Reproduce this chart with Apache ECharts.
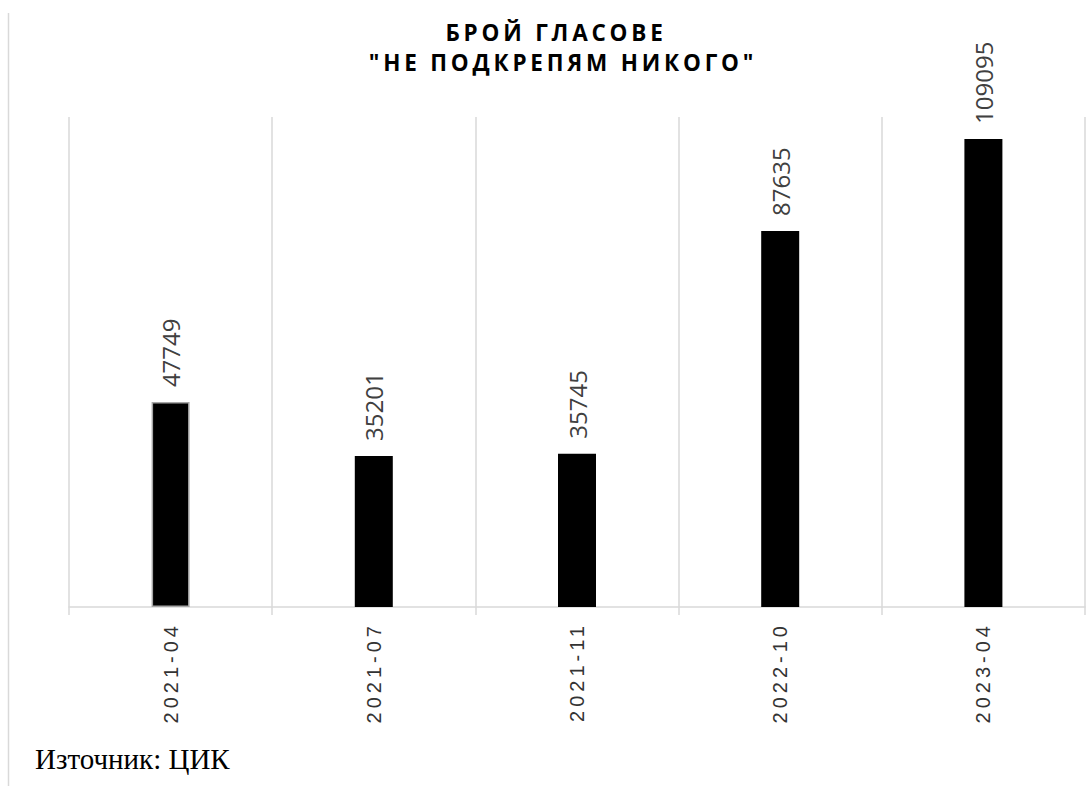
<!DOCTYPE html>
<html>
<head>
<meta charset="utf-8">
<script src="https://cdn.jsdelivr.net/npm/echarts@6/dist/echarts.min.js"></script>
<style>html,body{margin:0;padding:0;background:#fff}#c{width:1088px;height:786px}</style>
</head>
<body>
<div id="c"></div>
<script>
const categories = ['2021-04', '2021-07', '2021-11', '2022-10', '2023-04'];
const votes = [47749, 35201, 35745, 87635, 109095];
const titleLines = ['БРОЙ ГЛАСОВЕ', '"НЕ ПОДКРЕПЯМ НИКОГО"'];
const sourceText = 'Източник: ЦИК';

const chart = echarts.init(document.getElementById('c'), null, {renderer: 'svg'});
const barData = votes.map((v, i) => i === 0
  ? {value: v, itemStyle: {color: '#000', borderColor: '#a6a6a6', borderWidth: 1.5}}
  : {value: v});

const titleStyle = {fontFamily: 'Open Sans', fontWeight: 'bold', fontSize: 22.5, color: '#000', lineHeight: 30};

chart.setOption({
  animation: false,
  backgroundColor: '#fff',
  title: [
    {text: titleLines[0], left: 556, textAlign: 'center', top: 17, padding: 0, textStyle: titleStyle},
    {text: titleLines[1], left: 563, textAlign: 'center', top: 47, padding: 0, textStyle: titleStyle}
  ],
  grid: {left: 69, right: 3, top: 117, bottom: 179},
  xAxis: {
    type: 'category',
    data: categories,
    boundaryGap: true,
    axisLine: {show: true, lineStyle: {color: '#d9d9d9', width: 1.5}},
    axisTick: {show: true, length: 8, lineStyle: {color: '#d9d9d9', width: 1.5}},
    splitLine: {show: true, lineStyle: {color: '#d9d9d9', width: 1.5}},
    axisLabel: {rotate: 90, margin: 15, fontFamily: 'Liberation Sans', fontSize: 20, color: '#333333'}
  },
  yAxis: {
    type: 'value', min: 0, max: 114200, show: false,
    splitLine: {show: false}
  },
  series: [{
    type: 'bar',
    data: barData,
    barWidth: 38,
    itemStyle: {color: '#000'},
    label: {
      show: true, position: 'top', rotate: 90, distance: 15,
      align: 'left', verticalAlign: 'middle',
      fontFamily: 'Open Sans', fontSize: 24, color: '#404040'
    }
  }],
  graphic: [
    {type: 'line', shape: {x1: 8.5, y1: 13, x2: 8.5, y2: 786}, style: {stroke: '#d9d9d9', lineWidth: 1.5}, silent: true},
    {type: 'text', left: 35, top: 744, style: {text: sourceText, font: '29px "Liberation Serif"', fill: '#000'}}
  ]
});

function spaceLetters() {
  document.querySelectorAll('#c svg text').forEach(t => {
    const s = t.textContent;
    if (titleLines.includes(s)) t.setAttribute('letter-spacing', '3.8px');
    else if (categories.includes(s)) t.setAttribute('letter-spacing', '4px');
  });
}
spaceLetters();
chart.on('finished', spaceLetters);
setTimeout(spaceLetters, 50);
</script>
</body>
</html>
